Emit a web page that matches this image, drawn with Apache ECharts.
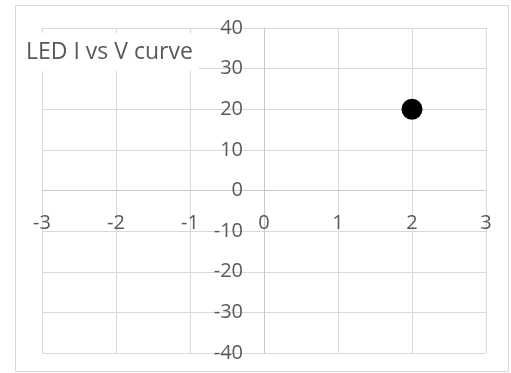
<!DOCTYPE html>
<html>
<head>
<meta charset="utf-8">
<script src="https://cdn.jsdelivr.net/npm/echarts@6/dist/echarts.min.js"></script>
<style>
html,body{margin:0;padding:0;background:#fff;}
#chart{width:511px;height:373px;}
</style>
</head>
<body>
<div id="chart"></div>
<script>
var titleText = "LED I vs V curve";
var voltage = [2];
var current = [20];
var xTicks = {min: -3, max: 3, interval: 1};
var yTicks = {min: -40, max: 40, interval: 10};

var points = voltage.map(function (v, i) { return [v, current[i]]; });

var labelColor = '#595959';
var chart = echarts.init(document.getElementById('chart'), null, {renderer: 'canvas'});
chart.setOption({
  animation: false,
  backgroundColor: '#fff',
  textStyle: {fontFamily: 'Open Sans'},
  title: {
    text: titleText,
    left: 20,
    top: 33,
    padding: [6, 6, 6, 6],
    backgroundColor: '#fff',
    textStyle: {fontFamily: 'Open Sans', fontSize: 23, fontWeight: 'normal', color: labelColor, lineHeight: 26}
  },
  graphic: [{
    type: 'rect',
    shape: {x: 15.5, y: 5.5, width: 493, height: 366},
    style: {fill: null, stroke: '#d9d9d9', lineWidth: 1},
    silent: true,
    z: -1
  }],
  grid: {left: 42, right: 25, top: 28, bottom: 20, outerBoundsMode: 'none'},
  xAxis: {
    type: 'value',
    min: xTicks.min, max: xTicks.max, interval: xTicks.interval,
    axisLine: {show: true, onZero: false, lineStyle: {color: '#c8c8c8', width: 1}},
    axisTick: {show: false},
    axisLabel: {color: labelColor, fontSize: 20, margin: 23, fontFamily: 'Open Sans', hideOverlap: false},
    splitLine: {show: true, lineStyle: {color: '#d9d9d9', width: 1}}
  },
  yAxis: {
    type: 'value',
    min: yTicks.min, max: yTicks.max, interval: yTicks.interval,
    axisLine: {show: true, onZero: false, lineStyle: {color: '#c8c8c8', width: 1}},
    axisTick: {show: false},
    axisLabel: {color: labelColor, fontSize: 20, margin: 21, fontFamily: 'Open Sans', hideOverlap: false},
    splitLine: {show: true, lineStyle: {color: '#d9d9d9', width: 1}}
  },
  series: [{
    type: 'scatter',
    data: points,
    symbol: 'circle',
    symbolSize: 21,
    itemStyle: {color: '#000', opacity: 1}
  }]
});

// Move both axes (line + labels) so they cross at the origin, using the library's own scales.
var origin = chart.convertToPixel({gridIndex: 0}, [0, 0]);
var corner = chart.convertToPixel({gridIndex: 0}, [xTicks.min, yTicks.min]);
chart.setOption({
  xAxis: {offset: origin[1] - corner[1]},
  yAxis: {offset: corner[0] - origin[0]}
});
</script>
</body>
</html>
